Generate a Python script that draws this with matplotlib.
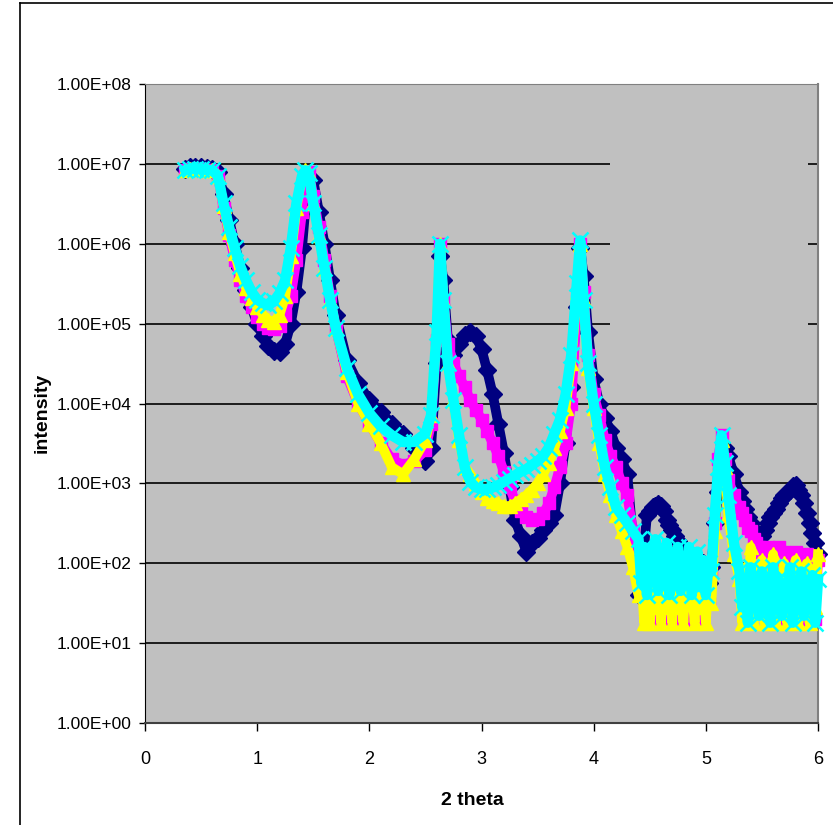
import numpy as np
import matplotlib
matplotlib.use('Agg')
import matplotlib.pyplot as plt
from matplotlib.patches import Rectangle
from matplotlib.lines import Line2D

# 2 theta grid (shared by the four scans)
two_theta = [0.36, 0.40, 0.45, 0.50, 0.55, 0.60, 0.65, 0.70,
             0.75, 0.80, 0.85, 0.90, 0.95, 1.00, 1.05, 1.10,
             1.15, 1.20, 1.25, 1.30, 1.35, 1.40, 1.43, 1.46,
             1.50, 1.55, 1.60, 1.65, 1.70, 1.80, 1.90, 2.00,
             2.10, 2.20, 2.30, 2.40, 2.50, 2.55, 2.60, 2.63,
             2.66, 2.70, 2.75, 2.80, 2.85, 2.90, 2.95, 3.00,
             3.05, 3.10, 3.15, 3.20, 3.25, 3.30, 3.35, 3.40,
             3.45, 3.50, 3.55, 3.60, 3.65, 3.70, 3.75, 3.80,
             3.85, 3.88, 3.91, 3.95, 4.00, 4.05, 4.10, 4.15,
             4.20, 4.25, 4.30, 4.35, 4.40, 4.425, 4.45, 4.475,
             4.50, 4.525, 4.55, 4.575, 4.60, 4.625, 4.65, 4.675,
             4.70, 4.725, 4.75, 4.775, 4.80, 4.825, 4.85, 4.875,
             4.90, 4.925, 4.95, 4.975, 5.00, 5.025, 5.05, 5.08,
             5.11, 5.14, 5.17, 5.20, 5.25, 5.30, 5.325, 5.35,
             5.375, 5.40, 5.425, 5.45, 5.475, 5.50, 5.525, 5.55,
             5.575, 5.60, 5.625, 5.65, 5.675, 5.70, 5.725, 5.75,
             5.775, 5.80, 5.825, 5.85, 5.875, 5.90, 5.925, 5.95,
             5.975, 6.00]

navy = [8.7e6, 9.1e6, 9.1e6, 9.1e6, 8.9e6, 8.7e6, 7.9e6, 4.2e6,
        2.0e6, 1.0e6, 5.0e5, 2.6e5, 1.6e5, 1.0e5, 7.1e4, 5.2e4,
        4.5e4, 4.4e4, 5.6e4, 1.0e5, 2.5e5, 8.9e5, 2.8e6, 5.6e6,
        6.3e6, 2.5e6, 1.0e6, 3.5e5, 1.3e5, 3.5e4, 1.8e4, 1.1e4,
        7.9e3, 5.6e3, 4.2e3, 2.8e3, 1.9e3, 2.8e3, 3.2e4, 7.1e5,
        3.5e5, 6.3e4, 4.0e4, 5.6e4, 7.2e4, 7.9e4, 7.1e4, 4.8e4,
        2.6e4, 1.3e4, 5.6e3, 2.4e3, 890, 350, 220, 140,
        180, 210, 260, 320, 400, 1.0e3, 3.2e3, 1.6e4,
        1.6e5, 8.9e5, 4.0e5, 7.9e4, 2.0e4, 1.0e4, 6.6e3, 4.5e3,
        2.8e3, 2.0e3, 1.3e3, 200, 40, 71, 160, 400,
        450, 500, 520, 550, 520, 450, 350, 300,
        260, 220, 190, 160, 130, 110, 100, 95,
        95, 100, 89, 100, 79, 56, 89, 320,
        790, 2.2e3, 2.8e3, 2.2e3, 1.3e3, 790, 600, 480,
        380, 320, 260, 220, 210, 220, 260, 320,
        380, 420, 480, 560, 660, 710, 760, 830,
        930, 950, 830, 710, 560, 420, 320, 240,
        180, 130]

magenta = [8.3e6, 8.7e6, 8.7e6, 8.7e6, 8.5e6, 8.3e6, 7.1e6, 2.8e6,
           1.3e6, 6.3e5, 3.5e5, 2.2e5, 1.6e5, 1.2e5, 1.0e5, 8.9e4,
           8.5e4, 9.3e4, 1.3e5, 2.2e5, 6.3e5, 2.5e6, 7.1e6, 7.9e6,
           4.0e6, 1.6e6, 6.3e5, 2.2e5, 8.9e4, 2.2e4, 1.0e4, 5.6e3,
           3.2e3, 2.0e3, 1.7e3, 1.9e3, 2.6e3, 5.6e3, 6.3e4, 1.0e6,
           2.0e5, 5.6e4, 3.2e4, 2.2e4, 1.6e4, 1.1e4, 8.3e3, 6.3e3,
           4.5e3, 3.2e3, 2.2e3, 1.4e3, 890, 600, 450, 380,
           350, 360, 420, 560, 890, 1.6e3, 3.2e3, 1.0e4,
           1.6e5, 1.0e6, 2.5e5, 4.0e4, 1.3e4, 7.1e3, 3.5e3, 2.2e3,
           1.6e3, 1.0e3, 710, 250, 100, 40, 71, 18,
           56, 28, 79, 18, 63, 32, 89, 18,
           63, 28, 79, 18, 56, 32, 89, 18,
           71, 28, 79, 18, 63, 32, 79, 320,
           2.0e3, 4.0e3, 2.0e3, 1.1e3, 710, 500, 420, 350,
           280, 250, 200, 180, 160, 140, 40, 160,
           20, 130, 40, 160, 20, 140, 40, 110,
           20, 140, 40, 100, 20, 130, 40, 110,
           20, 110]

yellow = [8.3e6, 8.7e6, 8.7e6, 8.7e6, 8.5e6, 8.3e6, 7.1e6, 3.0e6,
          1.4e6, 7.6e5, 4.2e5, 2.8e5, 2.1e5, 1.6e5, 1.3e5, 1.1e5,
          1.05e5, 1.3e5, 2.2e5, 7.1e5, 2.8e6, 7.1e6, 8.3e6, 7.6e6,
          3.2e6, 1.3e6, 5.0e5, 2.0e5, 8.9e4, 2.5e4, 1.0e4, 5.6e3,
          3.2e3, 1.6e3, 1.3e3, 2.0e3, 3.5e3, 7.1e3, 7.9e4, 1.0e6,
          2.0e5, 3.2e4, 1.1e4, 3.5e3, 1.6e3, 1.3e3, 1.0e3, 790,
          660, 600, 560, 520, 520, 560, 630, 710,
          830, 1.0e3, 1.3e3, 1.8e3, 2.8e3, 4.5e3, 8.9e3, 3.2e4,
          2.5e5, 1.0e6, 2.0e5, 2.8e4, 8.9e3, 3.2e3, 1.3e3, 710,
          400, 250, 160, 89, 40, 71, 18, 50,
          18, 89, 28, 63, 18, 79, 28, 56,
          18, 100, 28, 63, 18, 79, 32, 50,
          18, 89, 28, 63, 18, 71, 32, 250,
          1.6e3, 3.5e3, 1.6e3, 400, 130, 63, 18, 89,
          28, 160, 18, 71, 32, 110, 18, 63,
          28, 130, 18, 63, 32, 100, 18, 71,
          28, 110, 18, 71, 32, 100, 18, 79,
          28, 130]

cyan = [8.3e6, 8.7e6, 8.7e6, 8.7e6, 8.5e6, 8.3e6, 7.1e6, 3.2e6,
        1.6e6, 8.9e5, 5.2e5, 3.5e5, 2.5e5, 2.0e5, 1.8e5, 1.7e5,
        1.9e5, 2.4e5, 3.5e5, 8.9e5, 3.2e6, 7.1e6, 8.3e6, 7.6e6,
        3.2e6, 1.3e6, 5.0e5, 2.0e5, 8.9e4, 2.8e4, 1.3e4, 7.6e3,
        5.2e3, 4.0e3, 3.3e3, 3.3e3, 4.2e3, 7.1e3, 7.9e4, 1.0e6,
        2.0e5, 3.2e4, 1.1e4, 4.0e3, 1.6e3, 1.05e3, 890, 850,
        850, 890, 950, 1.05e3, 1.15e3, 1.26e3, 1.4e3, 1.5e3,
        1.7e3, 1.9e3, 2.2e3, 2.8e3, 4.2e3, 6.3e3, 1.3e4, 4.0e4,
        3.2e5, 1.1e6, 2.0e5, 3.2e4, 1.0e4, 4.0e3, 1.6e3, 890,
        500, 400, 320, 250, 200, 56, 160, 40,
        140, 63, 200, 45, 130, 79, 180, 40,
        110, 56, 160, 45, 100, 71, 160, 40,
        89, 140, 50, 110, 40, 100, 79, 400,
        1.6e3, 4.0e3, 1.8e3, 710, 180, 79, 28, 63,
        18, 89, 28, 56, 22, 79, 32, 50,
        18, 89, 28, 63, 22, 50, 32, 89,
        18, 56, 28, 79, 22, 50, 32, 71,
        18, 63]

y_ticks = [1e0, 1e1, 1e2, 1e3, 1e4, 1e5, 1e6, 1e7, 1e8]
y_tick_labels = ['%.2E' % v for v in y_ticks]
x_ticks = [0, 1, 2, 3, 4, 5, 6]

plt.rcParams['font.family'] = ['Liberation Sans', 'DejaVu Sans']

fig = plt.figure(figsize=(8.33, 8.25), dpi=100)
ax = fig.add_axes([145/833, 102/825, 673/833, 639/825])
ax.set_facecolor('#C0C0C0')

# series drawn bottom to top, cyan last like in the original
series = [
    (navy, '#000080', 'D', 9, 1.0, 7),
    (magenta, '#FF00FF', 's', 8.5, 1.0, 7),
    (yellow, '#FFFF00', '^', 10, 1.0, 7),
    (cyan, '#00FFFF', 'x', 12, 1.8, 7.5),
]
for vals, col, mk, ms, mew, lw in series:
    ax.plot(two_theta, vals, color=col, lw=lw,
            marker=mk, ms=ms, mew=mew, mec=col, mfc=col,
            solid_joinstyle='round', clip_on=False, zorder=3)

ax.set_yscale('log')
ax.set_ylim(1, 1e8)
ax.set_xlim(0, 6)
ax.set_yticks(y_ticks)
ax.set_yticklabels(y_tick_labels)
ax.yaxis.set_minor_locator(matplotlib.ticker.NullLocator())
ax.set_xticks(x_ticks)
ax.set_xticklabels([str(v) for v in x_ticks])

ax.set_axisbelow(True)
ax.grid(axis='y', color='black', lw=1.2)
ax.grid(axis='x', visible=False)

# empty legend area, it hides the grid lines
ax.add_patch(Rectangle((0.691, 0.599), 0.294, 0.298, transform=ax.transAxes,
                       facecolor='#C0C0C0', edgecolor='none', zorder=1))

ax.tick_params(axis='y', direction='out', length=4, width=1, pad=5.5,
               labelsize=12.5, colors='black')
ax.tick_params(axis='x', direction='out', length=6, width=1, pad=14,
               labelsize=13, colors='black')

ax.spines['left'].set_color('black')
ax.spines['bottom'].set_color('#404040')
ax.spines['bottom'].set_linewidth(1.5)
ax.spines['top'].set_color('#808080')
ax.spines['right'].set_color('#808080')
ax.spines['right'].set_linewidth(1.5)

ax.set_xlabel('2 theta', fontsize=14, fontweight='bold')
ax.xaxis.set_label_coords(0.487, -0.108)
ax.xaxis.label.set_va('top')
ax.set_ylabel('intensity', fontsize=14, fontweight='bold')
ax.yaxis.set_label_coords(-0.14, 0.485)

# chart frame, cut at right and bottom
fig.add_artist(Line2D([20/833, 20/833], [0, 1 - 3/825], color='black', lw=1.2))
fig.add_artist(Line2D([20/833, 1], [1 - 3/825, 1 - 3/825], color='black', lw=1.2))

fig.savefig('out.png', dpi=100)
